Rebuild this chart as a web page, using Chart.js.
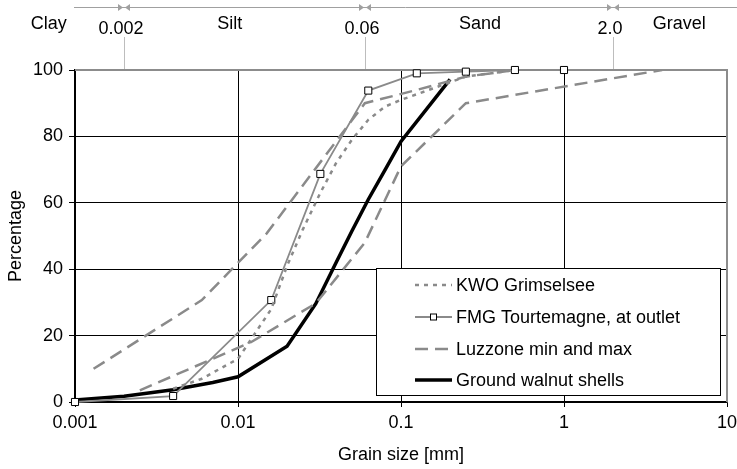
<!DOCTYPE html>
<html>
<head>
<meta charset="utf-8">
<script src="https://cdn.jsdelivr.net/npm/chart.js@4.4.1/dist/chart.umd.min.js"></script>
<style>
  body { margin: 0; background: #fff; }
  #wrap { width: 737px; height: 469px; position: relative; }
</style>
</head>
<body>
<div id="wrap"><canvas id="grainChart"></canvas></div>
<script>
// grain size [mm] vs percentage passing
const kwoSize = [0.004, 0.006, 0.01, 0.016, 0.02, 0.025, 0.032, 0.04, 0.05, 0.063, 0.08, 0.1, 0.25, 0.5];
const kwoPct  = [4, 7, 13, 28, 41, 52, 63, 72, 79, 85, 89, 91, 98, 100];

const fmgSize = [0.001, 0.004, 0.016, 0.032, 0.063, 0.125, 0.25, 0.5, 1];
const fmgPct  = [0, 1.8, 30.7, 68.7, 93.8, 99, 99.5, 100, 100];

const luzMaxSize = [0.0013, 0.006, 0.015, 0.06, 0.125, 0.25, 0.5];
const luzMaxPct  = [10, 30.7, 50.8, 90, 94, 98, 100];

const luzMinSize = [0.0025, 0.012, 0.03, 0.06, 0.1, 0.25, 4];
const luzMinPct  = [3.5, 18, 29.7, 48, 71, 90, 100];

const walnutSize = [0.001, 0.002, 0.004, 0.007, 0.01, 0.02, 0.03, 0.04, 0.05, 0.063, 0.08, 0.1, 0.2];
const walnutPct  = [0.6, 1.7, 3.7, 5.9, 7.6, 16.8, 29.6, 42, 51.5, 61, 70, 78.5, 97.2];

const xTicks = [0.001, 0.01, 0.1, 1, 10];
const classBounds = [0.002, 0.06, 2.0];
const classBoundLabels = ['0.002', '0.06', '2.0'];
const classNames = ['Clay', 'Silt', 'Sand', 'Gravel'];
const classNameAt = [0.00069, 0.0089, 0.305, 5.1];

const legendLabels = ['KWO Grimselsee', 'FMG Tourtemagne, at outlet', 'Luzzone min and max', 'Ground walnut shells'];

const FONT = '"Liberation Sans", Arial, sans-serif';
Chart.defaults.font.family = FONT;
Chart.defaults.font.size = 18;
Chart.defaults.color = '#000';

function pts(xs, ys) {
  return xs.map((x, i) => ({ x: x, y: ys[i] }));
}

const grey = '#8a8a8a';

const datasets = [{
    label: legendLabels[0],
    data: pts(kwoSize, kwoPct),
    borderColor: grey,
    borderWidth: 2.5,
    borderDash: [4, 5],
    pointRadius: 0
  }, {
    label: legendLabels[1],
    data: pts(fmgSize, fmgPct),
    borderColor: grey,
    borderWidth: 1.8,
    pointStyle: 'rect',
    pointRadius: 5,
    pointBorderColor: '#000',
    pointBorderWidth: 1,
    pointBackgroundColor: '#fff',
    clip: false
  }, {
    label: legendLabels[2],
    data: pts(luzMinSize, luzMinPct),
    borderColor: grey,
    borderWidth: 2.5,
    borderDash: [13, 7],
    pointRadius: 0
  }, {
    label: legendLabels[2] + ' (max)',
    data: pts(luzMaxSize, luzMaxPct),
    borderColor: grey,
    borderWidth: 2.5,
    borderDash: [13, 7],
    pointRadius: 0
  }, {
    label: legendLabels[3],
    data: pts(walnutSize, walnutPct),
    borderColor: '#000',
    borderWidth: 3.5,
    pointRadius: 0
  }
];

// grey frame on top and right of the plot
const framePlugin = {
  id: 'frame',
  beforeDatasetsDraw(chart) {
    const { ctx, chartArea: a } = chart;
    ctx.save();
    ctx.strokeStyle = '#8c8c8c';
    ctx.lineWidth = 2;
    ctx.beginPath();
    ctx.moveTo(a.left, a.top);
    ctx.lineTo(a.right, a.top);
    ctx.lineTo(a.right, a.bottom);
    ctx.stroke();
    ctx.restore();
  }
};

// legend box inside the plot
const legendBox = {
  id: 'legendBox',
  afterDatasetsDraw(chart) {
    const ctx = chart.ctx;
    const left = 376.5, top = 268.5, right = 720.5, bottom = 395.5;
    const rows = [285, 317, 349, 380];
    const x0 = 415, x1 = 452;
    ctx.save();
    ctx.fillStyle = '#fff';
    ctx.fillRect(left, top, right - left, bottom - top);
    ctx.strokeStyle = '#000';
    ctx.lineWidth = 1;
    ctx.strokeRect(left, top, right - left, bottom - top);

    const ds = chart.data.datasets;
    const sample = [ds[0], ds[1], ds[2], ds[4]];
    sample.forEach((d, i) => {
      const y = rows[i];
      ctx.strokeStyle = d.borderColor;
      ctx.lineWidth = d.borderWidth;
      ctx.setLineDash(d.borderDash || []);
      ctx.beginPath();
      ctx.moveTo(x0, y);
      ctx.lineTo(x1, y);
      ctx.stroke();
      ctx.setLineDash([]);
      if (d.pointStyle === 'rect') {
        ctx.fillStyle = '#fff';
        ctx.fillRect((x0 + x1) / 2 - 3, y - 3, 6, 6);
        ctx.strokeStyle = '#000';
        ctx.lineWidth = 1;
        ctx.strokeRect((x0 + x1) / 2 - 3, y - 3, 6, 6);
      }
      ctx.fillStyle = '#000';
      ctx.font = '18px ' + FONT;
      ctx.textAlign = 'left';
      ctx.textBaseline = 'middle';
      ctx.fillText(legendLabels[i], 456, y + 1);
    });
    ctx.restore();
  }
};

// soil class band above the plot
const classBand = {
  id: 'classBand',
  afterDraw(chart) {
    const { ctx, chartArea: a } = chart;
    const xs = chart.scales.x;
    const lineY = 7;
    ctx.save();
    ctx.strokeStyle = '#a0a0a0';
    ctx.lineWidth = 1;
    ctx.beginPath();
    ctx.moveTo(a.left - 1, lineY + 0.5);
    ctx.lineTo(chart.width, lineY + 0.5);
    ctx.stroke();

    ctx.font = '18px ' + FONT;
    ctx.textAlign = 'center';
    ctx.textBaseline = 'middle';
    classBounds.forEach((b, i) => {
      const px = Math.round(xs.getPixelForValue(b));
      ctx.fillStyle = '#a0a0a0';
      ctx.beginPath();
      ctx.moveTo(px - 6, lineY - 3);
      ctx.lineTo(px - 1, lineY + 0.5);
      ctx.lineTo(px - 6, lineY + 4);
      ctx.closePath();
      ctx.fill();
      ctx.beginPath();
      ctx.moveTo(px + 6, lineY - 3);
      ctx.lineTo(px + 1, lineY + 0.5);
      ctx.lineTo(px + 6, lineY + 4);
      ctx.closePath();
      ctx.fill();
      ctx.strokeStyle = '#bdbdbd';
      ctx.beginPath();
      ctx.moveTo(px + 0.5, 37);
      ctx.lineTo(px + 0.5, a.top - 1);
      ctx.stroke();
      ctx.fillStyle = '#000';
      ctx.fillText(classBoundLabels[i], px - 3, 29);
    });
    classNames.forEach((n, i) => {
      ctx.fillText(n, xs.getPixelForValue(classNameAt[i]), 24);
    });
    ctx.restore();
  }
};

new Chart(document.getElementById('grainChart'), {
  type: 'line',
  data: { datasets: datasets },
  options: {
    responsive: true,
    maintainAspectRatio: false,
    animation: false,
    layout: { padding: { top: 70, right: 10, left: 0, bottom: 0 } },
    elements: { line: { tension: 0 } },
    plugins: {
      legend: { display: false },
      tooltip: { enabled: false }
    },
    scales: {
      x: {
        type: 'logarithmic',
        min: 0.001,
        max: 10,
        afterBuildTicks: (s) => { s.ticks = xTicks.map(v => ({ value: v })); },
        afterFit: (s) => { s.height = 67; s.paddingRight = 0; s.paddingLeft = 0; },
        ticks: {
          padding: 5,
          maxRotation: 0,
          callback: (v) => String(v)
        },
        grid: { color: '#000', lineWidth: 1, tickLength: 5 },
        border: { color: '#000', width: 1.5 },
        title: {
          display: true,
          text: 'Grain size [mm]',
          font: { size: 18 },
          padding: { top: 0, bottom: 3 }
        }
      },
      y: {
        min: 0,
        max: 100,
        ticks: { stepSize: 20, padding: 6 },
        afterFit: (s) => { s.width = 75; },
        grid: { color: '#000', lineWidth: 1, tickLength: 6 },
        border: { color: '#000', width: 1.5 },
        title: {
          display: true,
          text: 'Percentage',
          font: { size: 18 },
          padding: { top: 5, bottom: 0 }
        }
      }
    }
  },
  plugins: [framePlugin, legendBox, classBand]
});
</script>
</body>
</html>
